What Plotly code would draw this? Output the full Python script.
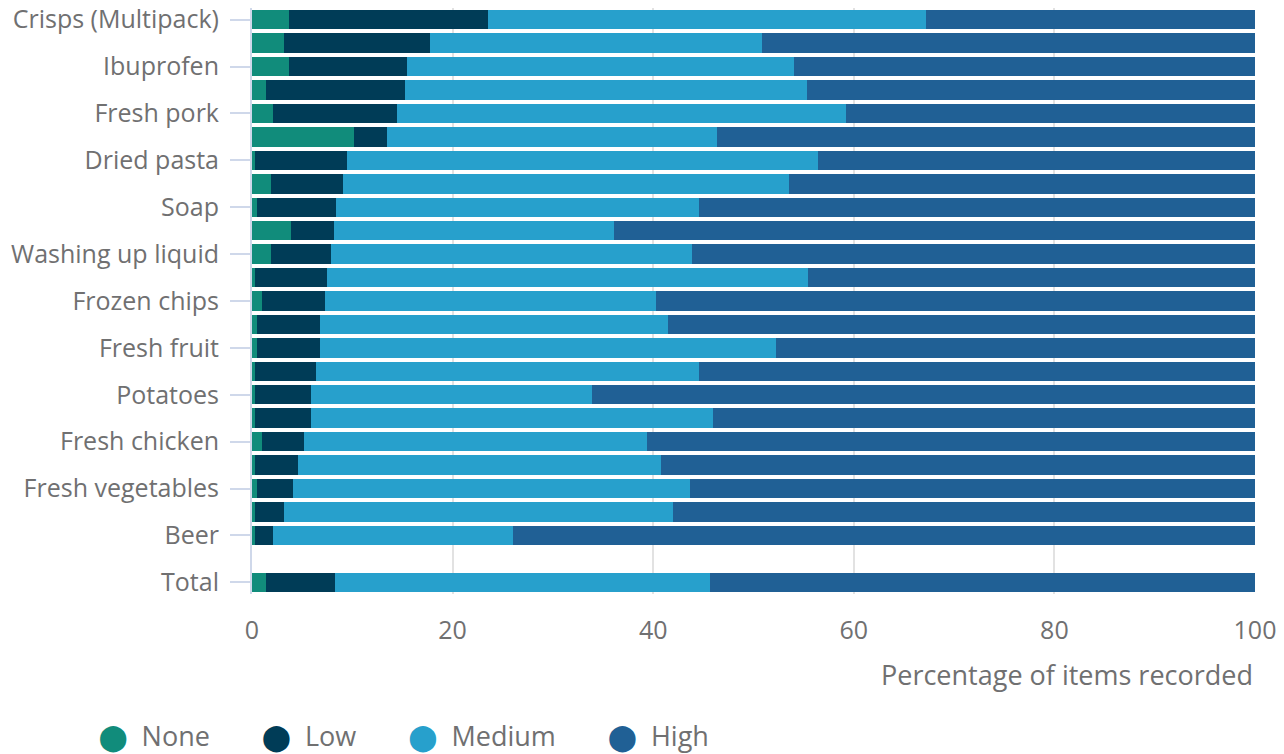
import plotly.graph_objects as go

# Categories, top to bottom (only every other label is shown in the reference)
categories = [
    "Crisps (Multipack)", "Toilet roll", "Ibuprofen", "Paracetamol",
    "Fresh pork", "Frozen pizza", "Dried pasta", "Rice", "Soap", "Shampoo",
    "Washing up liquid", "Laundry detergent", "Frozen chips", "Baked beans",
    "Fresh fruit", "Bread", "Potatoes", "Milk", "Fresh chicken", "Eggs",
    "Fresh vegetables", "Butter", "Beer", " ", "Total",
]
labelled = [
    "Crisps (Multipack)", "Ibuprofen", "Fresh pork", "Dried pasta", "Soap",
    "Washing up liquid", "Frozen chips", "Fresh fruit", "Potatoes",
    "Fresh chicken", "Fresh vegetables", "Beer", "Total",
]

# Percentages (spacer category " " has no data)
none_vals = [3.7, 3.2, 3.7, 1.4, 2.1, 10.2, 0.3, 1.9, 0.5, 3.9, 1.9, 0.3,
             1.0, 0.5, 0.5, 0.3, 0.3, 0.3, 1.0, 0.3, 0.5, 0.3, 0.3, None, 1.4]
low_vals = [19.8, 14.5, 11.8, 13.9, 12.4, 3.3, 9.2, 7.2, 7.9, 4.3, 6.0, 7.2,
            6.3, 6.3, 6.3, 6.1, 5.6, 5.6, 4.2, 4.3, 3.6, 2.9, 1.8, None, 6.9]
medium_vals = [43.7, 33.1, 38.5, 40.0, 44.7, 32.9, 46.9, 44.4, 36.2, 27.9,
               36.0, 47.9, 33.0, 34.7, 45.4, 38.2, 28.0, 40.1, 34.2, 36.2,
               39.6, 38.8, 23.9, None, 37.4]
high_vals = [32.8, 49.2, 46.0, 44.7, 40.8, 53.6, 43.6, 46.5, 55.4, 63.9,
             56.1, 44.6, 59.7, 58.5, 47.8, 55.4, 66.1, 54.0, 60.6, 59.2,
             56.3, 58.0, 74.0, None, 54.3]

series = [
    ("None", none_vals, "#118c7b"),
    ("Low", low_vals, "#003c57"),
    ("Medium", medium_vals, "#27a0cc"),
    ("High", high_vals, "#206095"),
]

FONT = "Open Sans"
GREY = "#707071"

fig = go.Figure()
for name, vals, color in series:
    fig.add_trace(go.Bar(
        y=categories, x=vals, name=name, orientation="h",
        marker=dict(color=color, line=dict(width=0)),
        showlegend=False,
        hovertemplate=name + ": %{x:.1f}%<extra>%{y}</extra>",
    ))
# legend entries: large circle glyph in the series colour, then the name
for name, vals, color in series:
    fig.add_trace(go.Scatter(
        x=[None], y=[None], mode="markers",
        name=(f"<span style='color:{color};font-family:DejaVu Sans;"
              f"font-size:26px'>\u2B24</span>\u00A0\u00A0{name}\u00A0"),
        marker=dict(color="rgba(0,0,0,0)", size=1),
        showlegend=True,
    ))

fig.update_layout(
    barmode="stack",
    bargap=0.17,
    width=1284, height=754,
    margin=dict(l=252, r=29, t=8, b=160, autoexpand=False),
    paper_bgcolor="white", plot_bgcolor="white",
    font=dict(family=FONT, color=GREY, size=25),
    legend=dict(
        orientation="h", x=-0.193, xanchor="left", y=-0.243,
        yanchor="middle", font=dict(size=27, color=GREY),
        traceorder="normal", itemwidth=30, tracegroupgap=0,
    ),
    annotations=[dict(
        text="Percentage of items recorded", xref="paper", yref="paper",
        x=1, y=-0.102, xanchor="right", yanchor="top", showarrow=False,
        font=dict(size=27, color=GREY),
    )],
)
fig.update_xaxes(
    range=[0, 100], tickvals=[0, 20, 40, 60, 80, 100],
    showgrid=True, gridcolor="#e2e2e2", gridwidth=1.5,
    zeroline=False, showline=False, ticks="",
    ticklabelstandoff=19, tickfont=dict(size=25, color=GREY),
    fixedrange=True, automargin=False,
)
fig.update_yaxes(
    type="category", categoryorder="array", categoryarray=categories,
    autorange="reversed",
    tickmode="array", tickvals=labelled, ticktext=labelled,
    ticks="outside", ticklen=20, tickwidth=2, tickcolor="#cfd8ea",
    showline=True, linecolor="#cfd8ea", linewidth=2,
    ticklabelstandoff=6, tickfont=dict(size=25, color=GREY),
    showgrid=False, fixedrange=True, automargin=False,
)

fig.write_html(
    "out.html",
    config={"displayModeBar": False},
    post_script="document.body.style.margin='0';document.body.style.overflow='hidden';",
)
